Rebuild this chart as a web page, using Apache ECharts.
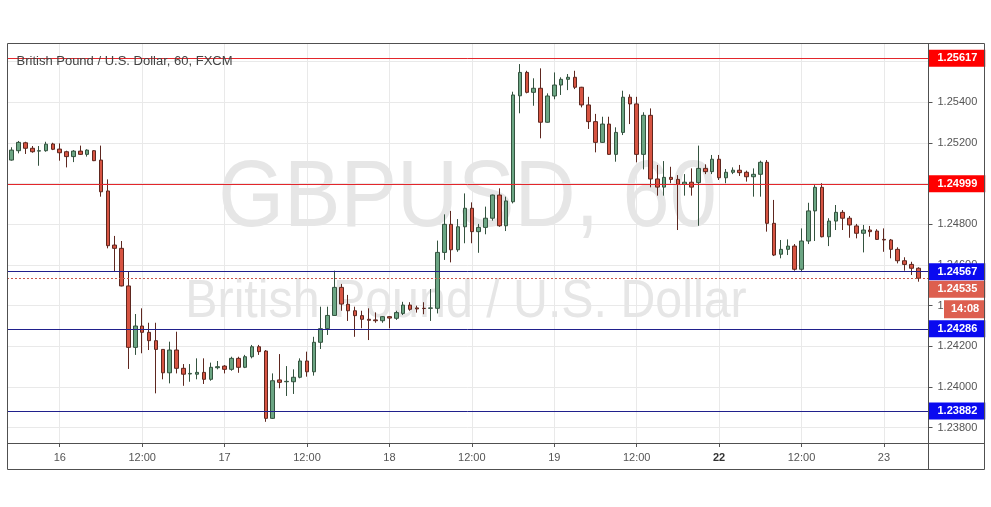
<!DOCTYPE html>
<html>
<head>
<meta charset="utf-8">
<script src="https://cdn.jsdelivr.net/npm/echarts@6/dist/echarts.min.js"></script>
<style>
html,body{margin:0;padding:0;background:#fff;}
#c{width:991px;height:507px;}
</style>
</head>
<body>
<div id="c"></div>
<script>
// ---- data (GBP/USD, 60 min candles, 15th 17:00 -> 23rd 05:00) ----
const opens = [1.25116,1.25162,1.25201,1.25174,1.25160,1.25162,1.25195,1.25170,1.25157,1.25133,
1.25160,1.25144,1.25162,1.25116,1.24964,1.24698,1.24682,1.24497,1.24195,1.24300,
1.24269,1.24228,1.24185,1.24070,1.24182,1.24092,1.24064,1.24063,1.24072,1.24038,
1.24095,1.24103,1.24087,1.24141,1.24097,1.24149,1.24198,1.24177,1.23846,1.24035,
1.24026,1.24026,1.24048,1.24128,1.24075,1.24220,1.24287,1.24352,1.24490,1.24407,
1.24375,1.24351,1.24333,1.24330,1.24326,1.24346,1.24338,1.24362,1.24403,1.24389,
1.24387,1.24387,1.24387,1.24662,1.24800,1.24675,1.24788,1.24879,1.24764,1.24785,
1.24830,1.24944,1.24793,1.24911,1.25432,1.25547,1.25449,1.25469,1.25302,1.25431,
1.25485,1.25513,1.25523,1.25474,1.25387,1.25305,1.25203,1.25293,1.25144,1.25252,
1.25425,1.25392,1.25144,1.25336,1.25023,1.24983,1.25031,1.25021,1.24997,1.25007,
1.25005,1.25075,1.25059,1.25120,1.25029,1.25056,1.25066,1.25056,1.25034,1.25046,
1.25105,1.24805,1.24653,1.24677,1.24693,1.24579,1.24718,1.24866,1.24982,1.24739,
1.24816,1.24859,1.24830,1.24792,1.24756,1.24772,1.24767,1.24726,1.24723,1.24677,
1.24621,1.24603,1.24584];
const closes = [1.25165,1.25203,1.25174,1.25157,1.25162,1.25194,1.25169,1.25152,1.25133,1.25160,
1.25144,1.25165,1.25113,1.24960,1.24695,1.24682,1.24497,1.24195,1.24300,1.24269,
1.24228,1.24185,1.24070,1.24182,1.24092,1.24063,1.24067,1.24072,1.24038,1.24097,
1.24100,1.24087,1.24141,1.24097,1.24149,1.24198,1.24174,1.23846,1.24031,1.24023,
1.24028,1.24048,1.24128,1.24075,1.24220,1.24287,1.24352,1.24490,1.24408,1.24375,
1.24351,1.24333,1.24328,1.24326,1.24346,1.24339,1.24366,1.24403,1.24382,1.24384,
1.24386,1.24389,1.24662,1.24800,1.24675,1.24788,1.24879,1.24764,1.24785,1.24830,
1.24944,1.24793,1.24915,1.25436,1.25547,1.25449,1.25469,1.25302,1.25431,1.25485,
1.25513,1.25523,1.25474,1.25387,1.25305,1.25203,1.25293,1.25144,1.25252,1.25425,
1.25392,1.25144,1.25336,1.25023,1.24983,1.25031,1.25021,1.24997,1.25007,1.24983,
1.25075,1.25059,1.25120,1.25029,1.25056,1.25066,1.25054,1.25034,1.25046,1.25105,
1.24805,1.24649,1.24677,1.24693,1.24579,1.24718,1.24866,1.24982,1.24739,1.24816,
1.24859,1.24830,1.24797,1.24756,1.24772,1.24764,1.24726,1.24723,1.24677,1.24621,
1.24603,1.24584,1.24535];
const lows = [1.25113,1.25149,1.25146,1.25152,1.25088,1.25157,1.25165,1.25113,1.25080,1.25106,
1.25141,1.25133,1.25111,1.24936,1.24682,1.24567,1.24495,1.24089,1.24158,1.24166,
1.24182,1.23969,1.24038,1.24018,1.24067,1.24006,1.24026,1.24038,1.24015,1.24031,
1.24087,1.24067,1.24080,1.24070,1.24093,1.24141,1.24158,1.23829,1.23843,1.23994,
1.23956,1.23966,1.24043,1.24051,1.24056,1.24187,1.24256,1.24351,1.24375,1.24325,
1.24247,1.24289,1.24231,1.24316,1.24316,1.24289,1.24330,1.24354,1.24375,1.24366,
1.24358,1.24325,1.24362,1.24625,1.24613,1.24665,1.24707,1.24707,1.24660,1.24751,
1.24818,1.24788,1.24767,1.24903,1.25346,1.25444,1.25383,1.25223,1.25300,1.25415,
1.25436,1.25460,1.25465,1.25375,1.25269,1.25154,1.25200,1.25141,1.25108,1.25239,
1.25293,1.25105,1.25070,1.24982,1.24941,1.24941,1.25002,1.24772,1.24941,1.24941,
1.24793,1.25047,1.25047,1.25018,1.25002,1.25047,1.25038,1.25010,1.24936,1.24936,
1.24764,1.24644,1.24633,1.24649,1.24572,1.24567,1.24703,1.24718,1.24736,1.24693,
1.24772,1.24772,1.24734,1.24731,1.24662,1.24739,1.24723,1.24665,1.24633,1.24608,
1.24572,1.24551,1.24518];
const highs = [1.25179,1.25210,1.25206,1.25185,1.25185,1.25206,1.25201,1.25198,1.25162,1.25165,
1.25187,1.25169,1.25165,1.25187,1.25021,1.24743,1.24718,1.24567,1.24359,1.24387,
1.24316,1.24316,1.24185,1.24223,1.24272,1.24113,1.24113,1.24141,1.24141,1.24120,
1.24128,1.24108,1.24149,1.24149,1.24158,1.24207,1.24207,1.24182,1.24067,1.24162,
1.24103,1.24087,1.24141,1.24174,1.24247,1.24395,1.24395,1.24572,1.24507,1.24453,
1.24395,1.24375,1.24387,1.24367,1.24349,1.24349,1.24375,1.24419,1.24417,1.24400,
1.24417,1.24482,1.24720,1.24849,1.24866,1.24826,1.24952,1.24908,1.24802,1.24887,
1.24946,1.24977,1.24936,1.25452,1.25588,1.25555,1.25518,1.25567,1.25444,1.25547,
1.25523,1.25539,1.25555,1.25476,1.25427,1.25343,1.25329,1.25329,1.25277,1.25457,
1.25439,1.25427,1.25351,1.25370,1.25092,1.25111,1.25083,1.25042,1.25047,1.25075,
1.25187,1.25095,1.25141,1.25141,1.25072,1.25080,1.25092,1.25064,1.25075,1.25113,
1.25116,1.24920,1.24723,1.24726,1.24703,1.24780,1.24906,1.24993,1.25002,1.24830,
1.24895,1.24870,1.24841,1.24802,1.24797,1.24792,1.24776,1.24780,1.24728,1.24687,
1.24638,1.24616,1.24589];

const xTickIndex  = [7, 19, 31, 43, 55, 67, 79, 91, 103, 115, 127];
const xTickLabels = ['16','12:00','17','12:00','18','12:00','19','12:00','22','12:00','23'];
const yTickValues = [1.238,1.240,1.242,1.244,1.246,1.248,1.250,1.252,1.254,1.256];

const resistanceLevels = [1.25617, 1.24999];
const supportLevels = [1.24567, 1.24286, 1.23882];
const lastPrice = 1.24535;
const countdown = '14:08';
const symbolTitle = 'British Pound / U.S. Dollar, 60, FXCM';
const watermark1 = 'GBPUSD, 60';
const watermark2 = 'British Pound / U.S. Dollar';

// ---- chart ----
const FONT = '"Liberation Sans", Arial, sans-serif';
const candles = opens.map((o, i) => [i, o, closes[i], lows[i], highs[i]]);
const closeLine = closes.map((c, i) => [i, c]);

function tagLabel(text, bg, extra) {
  return Object.assign({
    show: true, position: 'end', distance: 0, formatter: text,
    color: '#fff', fontWeight: 'bold', fontSize: 11, fontFamily: FONT,
    lineHeight: 12, padding: [3, 8, 2, 9], backgroundColor: bg
  }, extra || {});
}

const markData = [];
resistanceLevels.forEach(v => markData.push({
  yAxis: v, lineStyle: {color: '#e3262b', width: 1, type: 'solid', opacity: 1},
  label: tagLabel(v.toFixed(5), '#ff0000')
}));
supportLevels.forEach(v => markData.push({
  yAxis: v, lineStyle: {color: '#20208c', width: 1, type: 'solid', opacity: 1},
  label: tagLabel(v.toFixed(5), '#0a0af0')
}));
markData.push({
  yAxis: lastPrice, lineStyle: {color: '#c8554a', width: 1, type: [2, 2], opacity: 1},
  label: tagLabel(lastPrice.toFixed(5), '#dd5f4f', {offset: [0, 11]})
});
markData.push({
  yAxis: lastPrice, lineStyle: {color: 'rgba(0,0,0,0)', width: 1, type: 'solid', opacity: 1},
  label: tagLabel(countdown, '#dd5f4f', {offset: [15.5, 31], padding: [3, 6, 3, 7]})
});

const chart = echarts.init(document.getElementById('c'), null, {renderer: 'canvas'});
chart.setOption({
  animation: false,
  backgroundColor: '#ffffff',
  grid: {left: 7, right: 62.5, top: 43, bottom: 64, containLabel: false},
  xAxis: {
    type: 'value', min: -0.68, max: 133.49,
    axisLine: {show: false, onZero: false},
    axisTick: {show: true, customValues: xTickIndex, length: 4, lineStyle: {color: '#555'}},
    axisLabel: {
      customValues: xTickIndex, margin: 9, color: '#555', fontSize: 11, fontFamily: FONT,
      formatter: function (v) {
        const i = xTickIndex.indexOf(Math.round(v));
        const s = i >= 0 ? xTickLabels[i] : '';
        return s === '22' ? '{b|' + s + '}' : s;
      },
      rich: {b: {fontWeight: 'bold', color: '#333', fontSize: 11, fontFamily: FONT}}
    },
    splitLine: {show: true, lineStyle: {color: '#e9e9e9', width: 1}}
  },
  yAxis: {
    type: 'value', position: 'right', min: 1.237248, max: 1.256916,
    axisLine: {show: false, onZero: false},
    axisTick: {show: true, customValues: yTickValues, length: 4, lineStyle: {color: '#555'}},
    axisLabel: {
      customValues: yTickValues, margin: 9, color: '#555', fontSize: 11, fontFamily: FONT,
      formatter: v => v.toFixed(5)
    },
    splitLine: {show: true, lineStyle: {color: '#e9e9e9', width: 1}}
  },
  graphic: {elements: [
    {type: 'text', x: 467.5, y: 200, z: 1, scaleX: 0.9, silent: true,
     style: {text: watermark1, align: 'center', verticalAlign: 'middle',
             fontSize: 94, fontFamily: 'Liberation Sans', fill: '#e6e6e6'}},
    {type: 'text', x: 466, y: 302, z: 1, scaleX: 0.895, silent: true,
     style: {text: watermark2, align: 'center', verticalAlign: 'middle',
             fontSize: 54, fontFamily: 'Liberation Sans', fill: '#e6e6e6'}},
    {type: 'text', x: 16.5, y: 61.5, z: 20, silent: true,
     style: {text: symbolTitle, align: 'left', verticalAlign: 'middle',
             fontSize: 13, fontFamily: 'Liberation Sans', fill: '#444444'}},
    {type: 'rect', z: 30, silent: true, shape: {x: 7.5, y: 43.5, width: 977, height: 426},
     style: {fill: 'none', stroke: '#505050', lineWidth: 1}},
    {type: 'line', z: 30, silent: true, shape: {x1: 928.5, y1: 43, x2: 928.5, y2: 470},
     style: {stroke: '#505050', lineWidth: 1}},
    {type: 'line', z: 30, silent: true, shape: {x1: 7, y1: 443.5, x2: 985, y2: 443.5},
     style: {stroke: '#505050', lineWidth: 1}}
  ]},
  series: [{
    type: 'candlestick',
    data: candles,
    barWidth: 4,
    z: 3,
    itemStyle: {
      color: '#6ba583', color0: '#d75442',
      borderColor: '#34533f', borderColor0: '#5e271f', borderWidth: 1
    }
  }, {
    type: 'line',
    data: closeLine,
    showSymbol: false,
    symbol: 'none',
    silent: true,
    z: 4,
    lineStyle: {opacity: 0},
    markLine: {
      symbol: ['none', 'none'], silent: true, animation: false, precision: 5,
      data: markData
    }
  }]
});
</script>
</body>
</html>
